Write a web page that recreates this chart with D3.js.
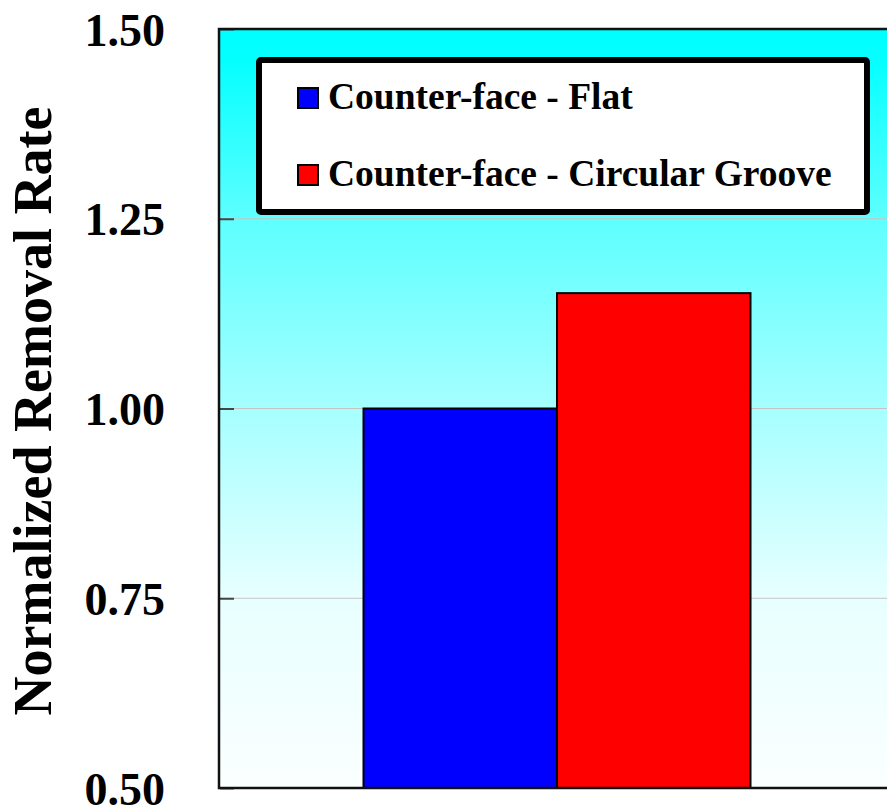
<!DOCTYPE html>
<html>
<head>
<meta charset="utf-8">
<script src="https://cdn.jsdelivr.net/npm/d3@7"></script>
<style>
body { margin: 0; background: #fff; }
svg text { font-family: "Liberation Serif", "Times New Roman", serif; font-weight: bold; }
</style>
</head>
<body>
<svg width="887" height="807"></svg>
<script>
var categories = [""];
var seriesNames = ["Counter-face - Flat", "Counter-face - Circular Groove"];
var seriesValues = [1.00, 1.152];
var seriesColors = ["#0000ff", "#ff0000"];
var yTicks = [0.50, 0.75, 1.00, 1.25, 1.50];

var svg = d3.select("svg");
var plotLeft = 219, plotTop = 29, plotW = 676, plotH = 759;

var defs = svg.append("defs");
var grad = defs.append("linearGradient").attr("id", "bg")
  .attr("x1", 0).attr("y1", 0).attr("x2", 0).attr("y2", 1);
grad.append("stop").attr("offset", "0").attr("stop-color", "#00ffff");
grad.append("stop").attr("offset", "0.04").attr("stop-color", "#05ffff");
grad.append("stop").attr("offset", "0.25").attr("stop-color", "#5effff");
grad.append("stop").attr("offset", "0.5").attr("stop-color", "#a6ffff");
grad.append("stop").attr("offset", "0.75").attr("stop-color", "#e8ffff");
grad.append("stop").attr("offset", "1").attr("stop-color", "#fbffff");

var yScale = d3.scaleLinear().domain([0.5, 1.5]).range([plotH, 0]);
var xScale = d3.scaleBand().domain(categories).range([0, plotW])
  .paddingInner(0).paddingOuter(0.3734);
var xInner = d3.scaleBand().domain(seriesNames).range([0, xScale.bandwidth()]);

var g = svg.append("g").attr("transform", "translate(" + plotLeft + "," + plotTop + ")");

g.append("rect").attr("width", plotW).attr("height", plotH).attr("fill", "url(#bg)");

// gridlines
g.append("g")
  .selectAll("line")
  .data(yTicks.slice(1, -1))
  .enter().append("line")
  .attr("x1", 0).attr("x2", plotW)
  .attr("y1", d => yScale(d)).attr("y2", d => yScale(d))
  .attr("stroke", "#c4c4c4").attr("stroke-width", 1);

// y axis
var yAxis = g.append("g")
  .call(d3.axisLeft(yScale).tickValues(yTicks).tickFormat(d3.format(".2f")).tickSize(-14).tickPadding(54));
yAxis.select(".domain").remove();
yAxis.selectAll(".tick line").attr("stroke", "#444").attr("stroke-width", 2).attr("transform", "translate(1,0)");
yAxis.selectAll(".tick text")
  .attr("font-size", 46)
  .attr("font-weight", "bold")
  .attr("fill", "#000")
  .attr("dy", 16);

// bars
g.selectAll(".bar")
  .data(seriesValues)
  .enter().append("rect")
  .attr("class", "bar")
  .attr("x", (d, i) => xScale(categories[0]) + xInner(seriesNames[i]))
  .attr("y", d => yScale(d))
  .attr("width", xInner.bandwidth())
  .attr("height", d => plotH - yScale(d))
  .attr("fill", (d, i) => seriesColors[i])
  .attr("stroke", "#000").attr("stroke-width", 2);

// plot frame
g.append("path")
  .attr("d", "M" + plotW + ",0H0V" + plotH + "H" + plotW)
  .attr("fill", "none").attr("stroke", "#111").attr("stroke-width", 2.5);

// y title
svg.append("text")
  .attr("transform", "translate(51,411) rotate(-90)")
  .attr("text-anchor", "middle")
  .attr("font-size", 54)
  .attr("font-weight", "bold")
  .text("Normalized Removal Rate");

// legend
var lg = svg.append("g");
lg.append("rect")
  .attr("x", 259).attr("y", 60).attr("width", 608).attr("height", 152)
  .attr("rx", 2)
  .attr("fill", "#fff").attr("stroke", "#000").attr("stroke-width", 6);

var item = lg.selectAll(".item")
  .data(seriesNames)
  .enter().append("g")
  .attr("class", "item")
  .attr("transform", (d, i) => "translate(298," + (88 + i * 77) + ")");
item.append("rect")
  .attr("width", 20).attr("height", 20)
  .attr("fill", (d, i) => seriesColors[i])
  .attr("stroke", "#000").attr("stroke-width", 2);
item.append("text")
  .attr("x", 30).attr("y", 21)
  .attr("font-size", 37.5)
  .attr("font-weight", "bold")
  .text(d => d);
</script>
</body>
</html>
